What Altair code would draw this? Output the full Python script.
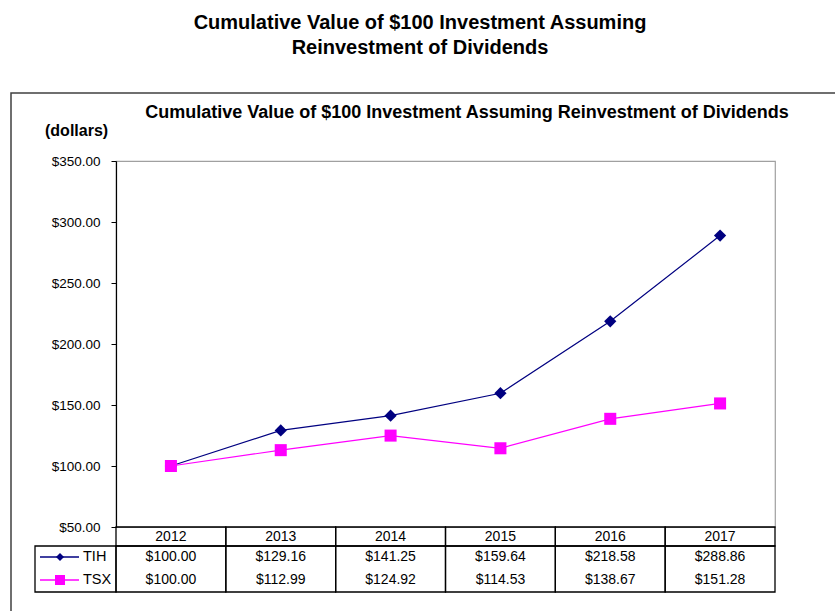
import altair as alt
import pandas as pd

years = ["2012", "2013", "2014", "2015", "2016", "2017"]
tih = [100.00, 129.16, 141.25, 159.64, 218.58, 288.86]
tsx = [100.00, 112.99, 124.92, 114.53, 138.67, 151.28]
series = ["TIH", "TSX"]
colors = ["#000080", "#FF00FF"]
shapes = ["diamond", "square"]
y_ticks = [50, 100, 150, 200, 250, 300, 350]

rows = []
for s, vals in zip(series, [tih, tsx]):
    for yr, v in zip(years, vals):
        rows.append({"year": yr, "value": v, "series": s})
df = pd.DataFrame(rows)
df_years = pd.DataFrame({"year": years})
df_leg = pd.DataFrame({"series": series})

FONT = "Liberation Sans"
W, H = 659, 366

xband = alt.Scale(domain=years, paddingInner=0, paddingOuter=0)
X = alt.X("year:O", scale=xband, axis=None, bandPosition=0.5)
Xr = alt.X("year:O", scale=xband, axis=None)
Y = alt.Y("value:Q",
          scale=alt.Scale(domain=[50, 350], nice=False, zero=False),
          axis=alt.Axis(values=y_ticks, format="$.2f", title=None, grid=False,
                        domainColor="black", tickColor="black", tickSize=5,
                        labelPadding=11, labelFont=FONT, labelFontSize=13.5,
                        labelColor="black", domainWidth=1.2))
color = alt.Color("series:N", scale=alt.Scale(domain=series, range=colors), legend=None)
shape = alt.Shape("series:N", scale=alt.Scale(domain=series, range=shapes), legend=None)

frame = alt.Chart(df_years.head(1)).mark_rect(fill="transparent", stroke="#404040", strokeWidth=1.5).encode(
    x=alt.value(-105), x2=alt.value(730), y=alt.value(-68), y2=alt.value(470))

lines = alt.Chart(df).mark_line(strokeWidth=1.2).encode(x=X, y=Y, color=color, detail="series:N")
points = alt.Chart(df).mark_point(filled=True, opacity=1).encode(
    x=X, y="value:Q", color=color, shape=shape,
    size=alt.Size("series:N", scale=alt.Scale(domain=series, range=[150, 145]), legend=None))

hdr_cells = alt.Chart(df_years).mark_rect(fill="transparent", stroke="black", strokeWidth=1.3).encode(
    x=Xr, y=alt.value(366), y2=alt.value(385))
data_cells = alt.Chart(df_years).mark_rect(fill="transparent", stroke="black", strokeWidth=1.3).encode(
    x=Xr, y=alt.value(385), y2=alt.value(431))
leg_cell = alt.Chart(df_years.head(1)).mark_rect(fill="transparent", stroke="black", strokeWidth=1.3).encode(
    x=alt.value(-81), x2=alt.value(0), y=alt.value(385), y2=alt.value(431))

hdr_text = alt.Chart(df_years).mark_text(font=FONT, fontSize=14, color="black").encode(
    x=X, y=alt.value(375.5), text="year:N")

val_layers = []
leg_layers = []
for s, yy, col, shp, sz in zip(series, [396, 419], colors, shapes, [65, 100]):
    sub = df[df["series"] == s]
    val_layers.append(alt.Chart(sub).mark_text(font=FONT, fontSize=14, color="black").encode(
        x=X, y=alt.value(yy), text=alt.Text("value:Q", format="$.2f")))
    one = df_leg[df_leg["series"] == s]
    leg_layers.append(alt.Chart(one).mark_rule(color=col, strokeWidth=1.3).encode(
        x=alt.value(-76), x2=alt.value(-37), y=alt.value(yy)))
    leg_layers.append(alt.Chart(one).mark_point(filled=True, opacity=1, color=col, shape=shp, size=sz).encode(
        x=alt.value(-56), y=alt.value(yy)))
    leg_layers.append(alt.Chart(one).mark_text(font=FONT, fontSize=14.5, color="black", align="left").encode(
        x=alt.value(-33), y=alt.value(yy), text="series:N"))

t_outer1 = alt.Chart(df_years.head(1)).mark_text(font=FONT, fontSize=20, fontWeight="bold", color="black").encode(
    x=alt.value(304), y=alt.value(-138), text=alt.value("Cumulative Value of $100 Investment Assuming"))
t_outer2 = alt.Chart(df_years.head(1)).mark_text(font=FONT, fontSize=20, fontWeight="bold", color="black").encode(
    x=alt.value(304), y=alt.value(-113), text=alt.value("Reinvestment of Dividends"))
t_inner = alt.Chart(df_years.head(1)).mark_text(font=FONT, fontSize=18, fontWeight="bold", color="black").encode(
    x=alt.value(351), y=alt.value(-48.5), text=alt.value("Cumulative Value of $100 Investment Assuming Reinvestment of Dividends"))
t_units = alt.Chart(df_years.head(1)).mark_text(font=FONT, fontSize=16, fontWeight="bold", color="black", align="left").encode(
    x=alt.value(-71), y=alt.value(-30), text=alt.value("(dollars)"))

chart = alt.layer(
    frame, hdr_cells, data_cells, leg_cell, hdr_text, *val_layers, *leg_layers,
    lines, points, t_outer1, t_outer2, t_inner, t_units
).properties(
    width=W, height=H,
    padding={"left": 116, "top": 161, "right": 60, "bottom": 84},
    autosize=alt.AutoSizeParams(type="none"),
    background="white",
).configure_view(stroke="#a0a0a0", strokeWidth=1.2)

chart.save("out.html", embed_options={"renderer": "svg", "actions": False})
